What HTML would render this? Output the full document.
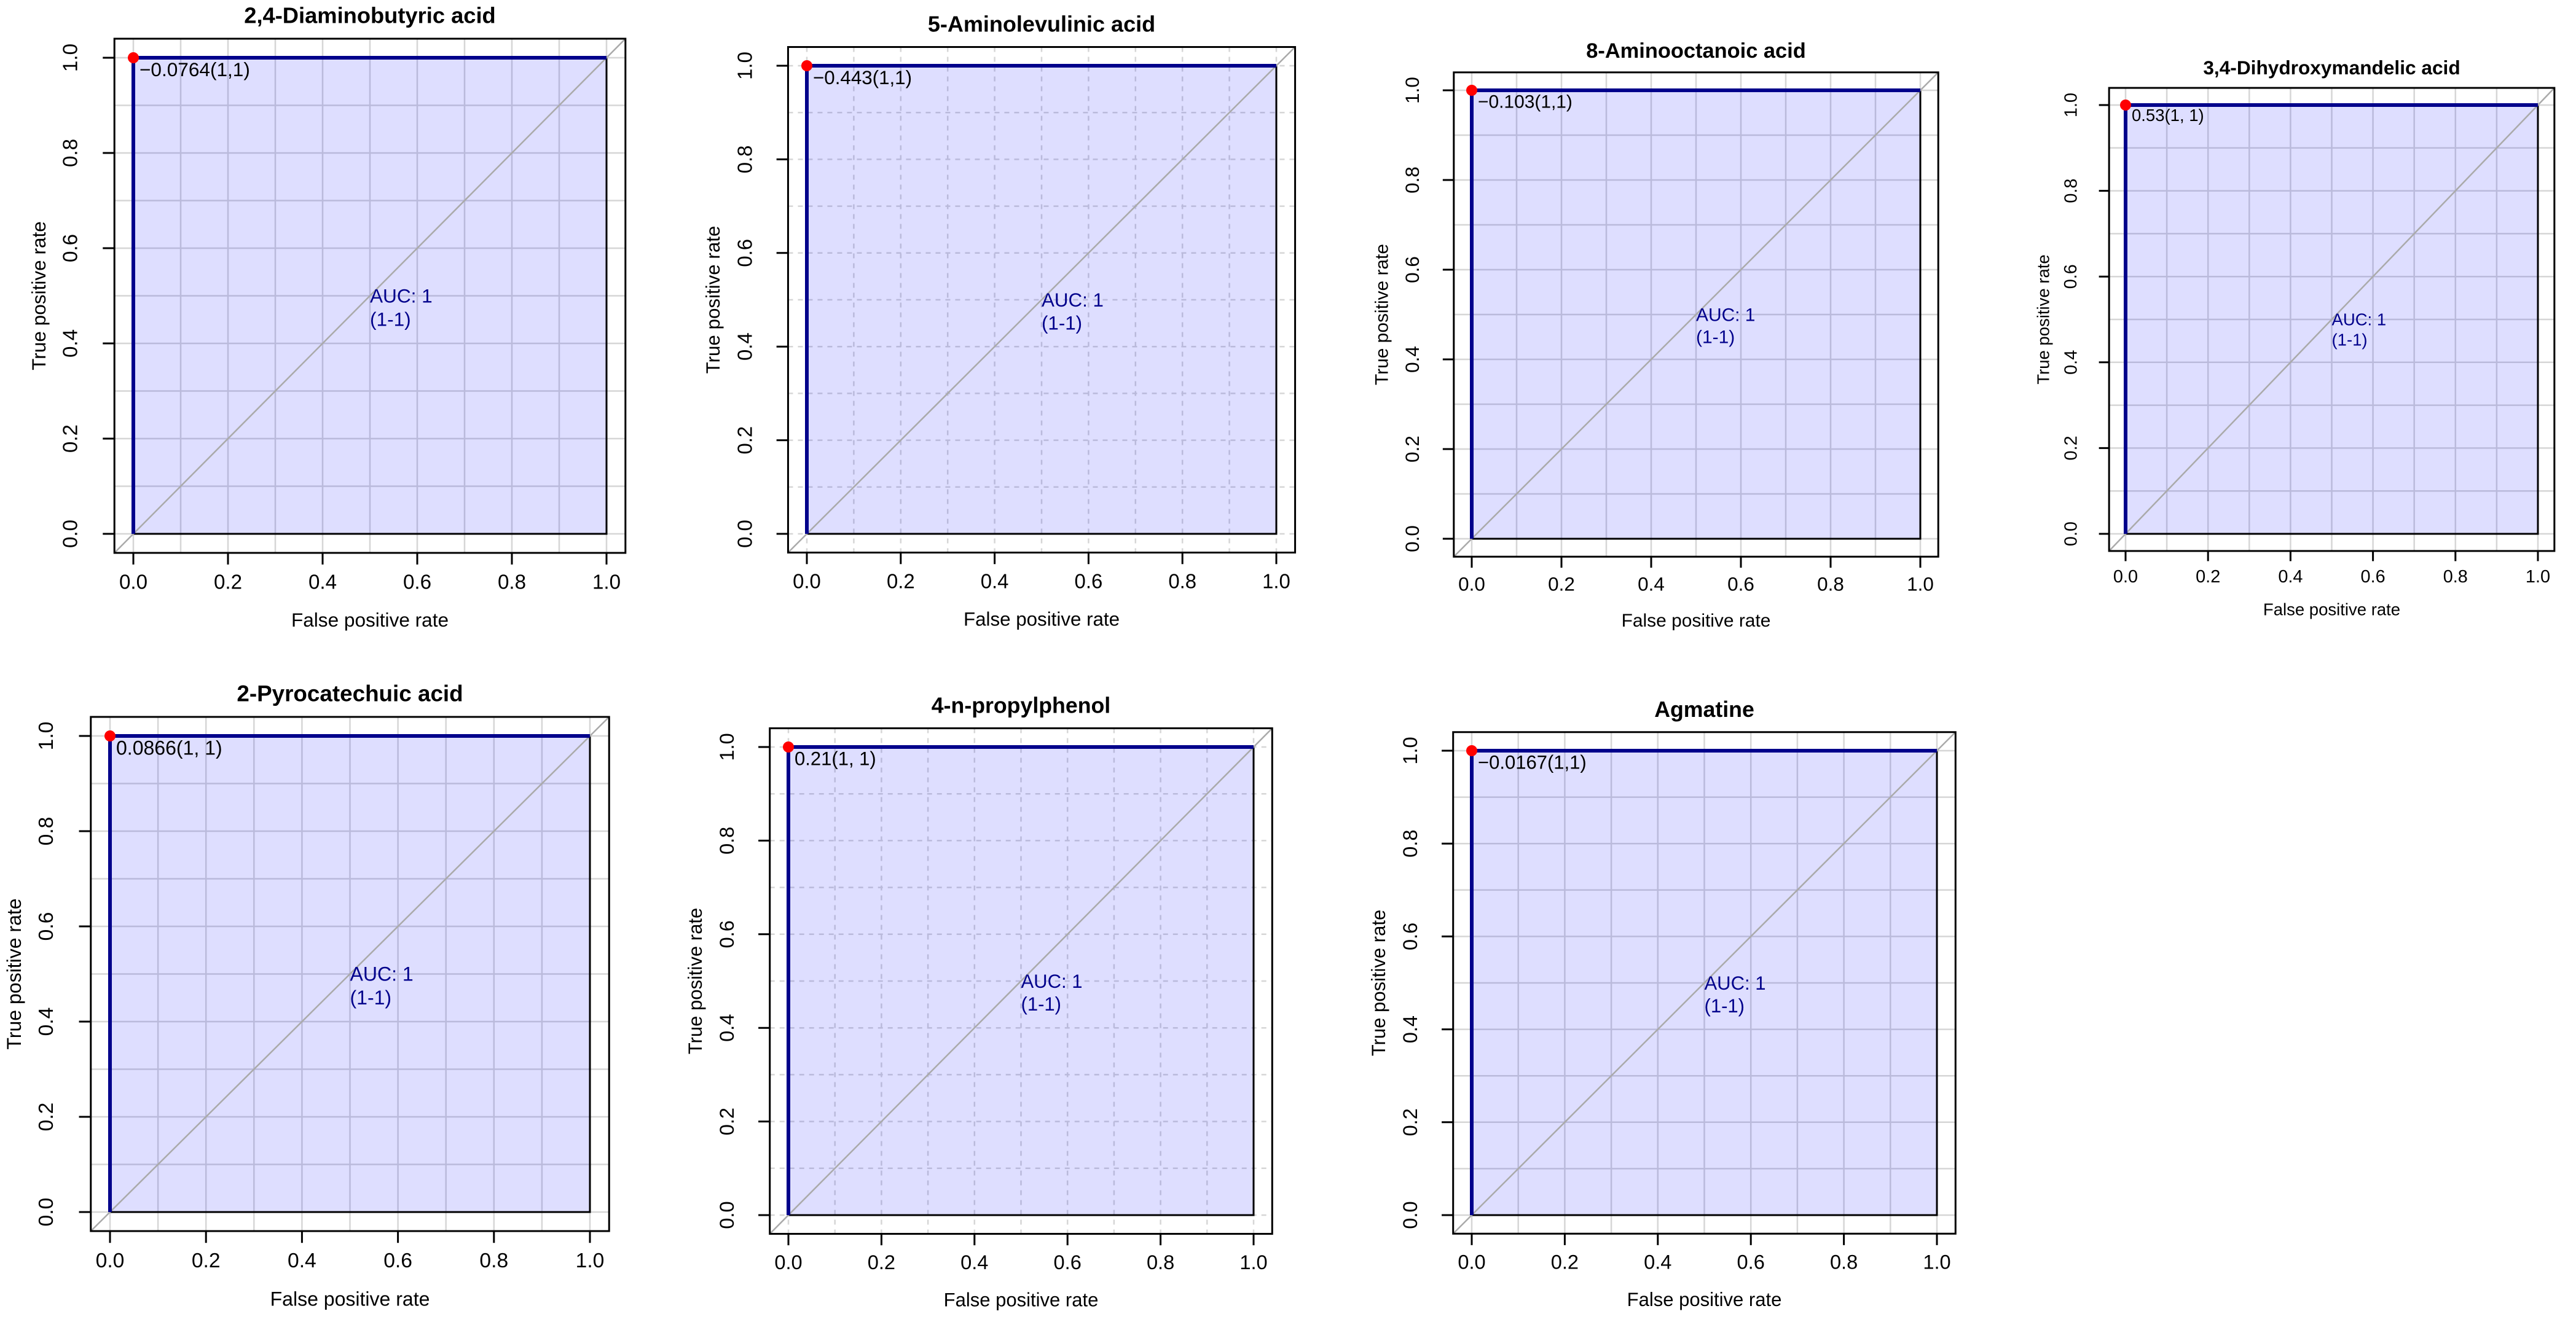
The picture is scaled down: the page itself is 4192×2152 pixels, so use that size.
<!DOCTYPE html>
<html><head><meta charset="utf-8"><style>
html,body{margin:0;padding:0;background:#fff;}
svg{display:block;font-family:"Liberation Sans",sans-serif;}
</style></head><body>
<svg id="fig" width="4192" height="2152" viewBox="0 0 4192 2152" xmlns="http://www.w3.org/2000/svg"></svg>
<script>
// ---- data ----
const titles = ["2,4-Diaminobutyric acid","5-Aminolevulinic acid","8-Aminooctanoic acid","3,4-Dihydroxymandelic acid","2-Pyrocatechuic acid","4-n-propylphenol","Agmatine"];
const cutoffLabels = ["\u22120.0764(1,1)","\u22120.443(1,1)","\u22120.103(1,1)","0.53(1, 1)","0.0866(1, 1)","0.21(1, 1)","\u22120.0167(1,1)"];
const aucValues = ["1","1","1","1","1","1","1"];
const ciLabels = ["(1-1)","(1-1)","(1-1)","(1-1)","(1-1)","(1-1)","(1-1)"];
const rocFpr = [0,0,1];
const rocTpr = [0,1,1];
const bestFpr = [0,0,0,0,0,0,0];
const bestTpr = [1,1,1,1,1,1,1];
const tickValues = [0,0.2,0.4,0.6,0.8,1.0];
const tickLabels = ["0.0","0.2","0.4","0.6","0.8","1.0"];
const gridValues = [0,0.1,0.2,0.3,0.4,0.5,0.6,0.7,0.8,0.9,1.0];
// ---- layout (pixel positions of data 0/1 for each panel) ----
const layout = [
 {x0:217,x1:987,y0:869,y1:94,dash:false},
 {x0:1313,x1:2077,y0:869,y1:107,dash:true},
 {x0:2395,x1:3125,y0:877,y1:147,dash:false},
 {x0:3459,x1:4130,y0:869,y1:171,dash:false},
 {x0:179,x1:960,y0:1973,y1:1198,dash:false},
 {x0:1283,x1:2040,y0:1978,y1:1216,dash:true},
 {x0:2395,x1:3152,y0:1978,y1:1222,dash:false}
];
const NS="http://www.w3.org/2000/svg";
const svg=document.getElementById('fig');
function mk(tag,attrs,parent){const e=document.createElementNS(NS,tag);for(const k in attrs)e.setAttribute(k,attrs[k]);(parent||svg).appendChild(e);return e;}

titles.forEach((t,i)=>{
  const L=layout[i];
  const sx=v=>L.x0+(L.x1-L.x0)*v;
  const sy=v=>L.y0+(L.y1-L.y0)*v;
  const w=L.x1-L.x0;
  const fs=w*0.041;
  const bl=sx(-0.04),br=sx(1.04),bt=sy(1.04),bb=sy(-0.04);
  const g=mk('g',{});
  
  
  gridValues.forEach(v=>{
    const gx=mk('line',{x1:sx(v),x2:sx(v),y1:bt,y2:bb,stroke:'#d6d6d6','stroke-width':2.5,'stroke-dasharray':L.dash?'8,8':'none'},g);
    
    
    const gy=mk('line',{x1:bl,x2:br,y1:sy(v),y2:sy(v),stroke:'#d6d6d6','stroke-width':2.5,'stroke-dasharray':L.dash?'8,8':'none'},g);
    
    
  });
  let pts=rocFpr.map((f,k)=>sx(f)+','+sy(rocTpr[k])).join(' ');
  pts+=' '+sx(1)+','+sy(0);
  const area=mk('polygon',{points:pts,fill:'rgba(0,0,255,0.13)',stroke:'#000','stroke-width':3},g);
  
  
  const dg=mk('line',{x1:bl,y1:bb,x2:br,y2:bt,stroke:'#aaaaaa','stroke-width':2.5},g);
  
  
  const curve=mk('polyline',{points:rocFpr.map((f,k)=>sx(f)+','+sy(rocTpr[k])).join(' '),fill:'none',stroke:'#00008b','stroke-width':6},g);
  
  
  const dot=mk('circle',{cx:sx(bestFpr[i]),cy:sy(bestTpr[i]),r:9,fill:'#ff0000'},g);
  
  
  const cl=mk('text',{x:sx(bestFpr[i])+10,y:sy(bestTpr[i])+fs*0.95,'font-size':fs,fill:'#000'},g);
  cl.textContent=cutoffLabels[i];
  
  
  const at=mk('text',{x:sx(0.5),y:sy(0.5)+fs*0.35,'font-size':fs,fill:'#00008b'},g);
  at.textContent='AUC: '+aucValues[i];
  
  
  const ct=mk('text',{x:sx(0.5),y:sy(0.5)+fs*1.55,'font-size':fs,fill:'#00008b'},g);
  ct.textContent=ciLabels[i];
  
  
  const box=mk('rect',{x:bl,y:bt,width:br-bl,height:bb-bt,fill:'none',stroke:'#000','stroke-width':3},g);
  
  
  const tl=fs*0.6;
  tickValues.forEach((v,k)=>{
    const xt=mk('line',{x1:sx(v),x2:sx(v),y1:bb,y2:bb+tl,stroke:'#000','stroke-width':3},g);
    
    
    const xl=mk('text',{x:sx(v),y:bb+fs*1.85,'font-size':fs*1.05,'text-anchor':'middle',fill:'#000'},g);
    xl.textContent=tickLabels[k];
    
    
    const yt=mk('line',{x1:bl,x2:bl-tl,y1:sy(v),y2:sy(v),stroke:'#000','stroke-width':3},g);
    
    
    const yx=bl-fs*2.25, yy=sy(v);
    const yl=mk('text',{x:yx,y:yy,'font-size':fs*1.05,'text-anchor':'middle',fill:'#000',transform:'rotate(-90 '+yx+' '+yy+')','dominant-baseline':'central'},g);
    yl.textContent=tickLabels[k];
    
    
  });
  const xa=mk('text',{x:(bl+br)/2,y:bb+fs*3.8,'font-size':fs,'text-anchor':'middle',fill:'#000'},g);
  xa.textContent='False positive rate';
  
  
  const yax=bl-fs*3.9, yay=(bt+bb)/2;
  const ya=mk('text',{x:yax,y:yay,'font-size':fs,'text-anchor':'middle',fill:'#000',transform:'rotate(-90 '+yax+' '+yay+')','dominant-baseline':'central'},g);
  ya.textContent='True positive rate';
  
  
  const tt=mk('text',{x:(bl+br)/2,y:bt-fs*0.8,'font-size':fs*1.15,'font-weight':'bold','text-anchor':'middle',fill:'#000'},g);
  tt.textContent=t;
  
  
});
</script>
</body></html>
